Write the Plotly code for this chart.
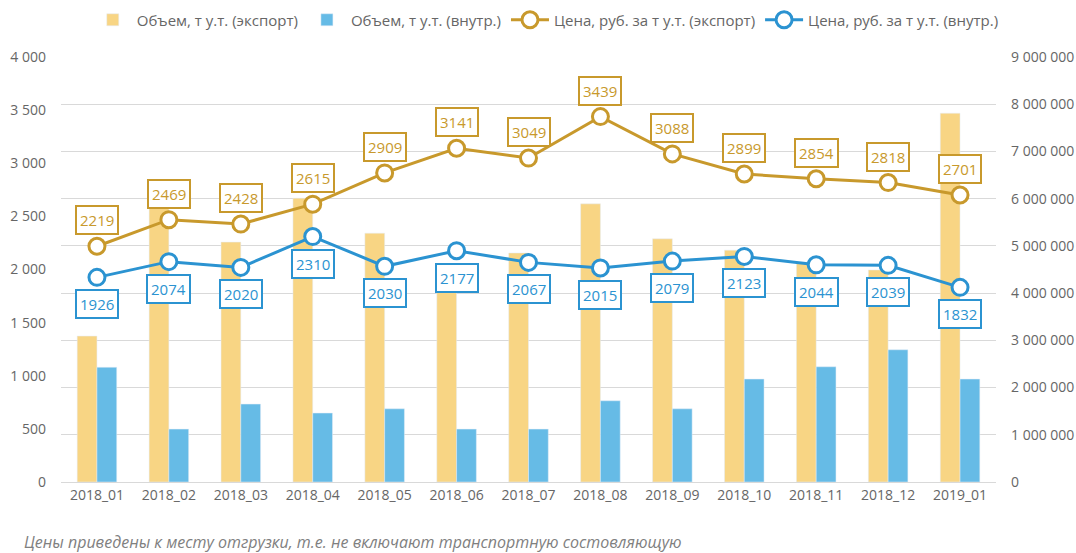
import plotly.graph_objects as go

categories = ["2018_01", "2018_02", "2018_03", "2018_04", "2018_05", "2018_06", "2018_07",
              "2018_08", "2018_09", "2018_10", "2018_11", "2018_12", "2019_01"]
vol_export = [3090000, 5910000, 5080000, 6010000, 5270000, 4530000, 4850000,
              5890000, 5150000, 4910000, 4660000, 4490000, 7810000]
vol_domestic = [2430000, 1120000, 1650000, 1460000, 1550000, 1120000, 1120000,
                1720000, 1550000, 2180000, 2440000, 2800000, 2180000]
price_export = [2219, 2469, 2428, 2615, 2909, 3141, 3049, 3439, 3088, 2899, 2854, 2818, 2701]
price_domestic = [1926, 2074, 2020, 2310, 2030, 2177, 2067, 2015, 2079, 2123, 2044, 2039, 1832]

names = ["Объем, т у.т. (экспорт)", "Объем, т у.т. (внутр.)",
         "Цена, руб. за т у.т. (экспорт)", "Цена, руб. за т у.т. (внутр.)"]
footnote = "Цены приведены к месту отгрузки, т.е. не включают транспортную состовляющую"

C_BAR_EXP = "#F8D584"
C_BAR_DOM = "#66BBE6"
C_LINE_EXP = "#C8992C"
C_LINE_DOM = "#2B93D1"
GRID = "#D9D9D9"
TXT = "#666666"
FONT = "Open Sans"

fig = go.Figure()
fig.add_trace(go.Bar(x=categories, y=vol_export, name=names[0], marker_color=C_BAR_EXP,
                     yaxis="y"))
fig.add_trace(go.Bar(x=categories, y=vol_domestic, name=names[1], marker_color=C_BAR_DOM,
                     yaxis="y"))
fig.add_trace(go.Scatter(x=categories, y=price_export, name=names[2], mode="lines+markers",
                         line=dict(color=C_LINE_EXP, width=3),
                         marker=dict(size=16, color="white", line=dict(color=C_LINE_EXP, width=3)),
                         yaxis="y2"))
fig.add_trace(go.Scatter(x=categories, y=price_domestic, name=names[3], mode="lines+markers",
                         line=dict(color=C_LINE_DOM, width=3),
                         marker=dict(size=16, color="white", line=dict(color=C_LINE_DOM, width=3)),
                         yaxis="y2"))

annotations = []
for c, v in zip(categories, price_export):
    annotations.append(dict(x=c, y=v, xref="x", yref="y2", text=str(v), showarrow=False,
                            yshift=26, yanchor="middle",
                            font=dict(family=FONT, size=15, color=C_LINE_EXP),
                            bgcolor="white", bordercolor=C_LINE_EXP, borderwidth=2, borderpad=3))
for c, v in zip(categories, price_domestic):
    annotations.append(dict(x=c, y=v, xref="x", yref="y2", text=str(v), showarrow=False,
                            yshift=-27, yanchor="middle",
                            font=dict(family=FONT, size=15, color=C_LINE_DOM),
                            bgcolor="white", bordercolor=C_LINE_DOM, borderwidth=2, borderpad=3))
annotations.append(dict(x=-0.042, y=-0.141, xref="paper", yref="paper", text=footnote,
                        showarrow=False, xanchor="left", yanchor="middle",
                        font=dict(family=FONT, size=16, color="#808080", style="italic")))

fig.update_layout(
    width=1076, height=553,
    margin=dict(l=61, r=80, t=57, b=71, autoexpand=False),
    paper_bgcolor="white", plot_bgcolor="white",
    separators=", ",
    font=dict(family=FONT, size=14, color=TXT),
    barmode="group", bargap=0.45, bargroupgap=0,
    showlegend=True,
    legend=dict(orientation="h", x=0.519, xanchor="center", y=1.087, yanchor="middle",
                font=dict(family=FONT, size=15, color=TXT), itemwidth=38,
                traceorder="normal"),
    xaxis=dict(showgrid=False, showline=True, linecolor=GRID, linewidth=1, automargin=False,
               range=[-0.5, len(categories) - 0.5],
               tickfont=dict(family=FONT, size=14, color=TXT), ticks=""),
    yaxis=dict(side="right", range=[0, 9000000], dtick=1000000, tickformat=",d",
               showgrid=True, gridcolor=GRID, gridwidth=1, zeroline=False, automargin=False,
               tickfont=dict(family=FONT, size=14, color=TXT), ticklabelstandoff=14),
    yaxis2=dict(side="left", overlaying="y", range=[0, 4000], dtick=500, tickformat=",d",
                showgrid=False, zeroline=False, automargin=False,
                tickfont=dict(family=FONT, size=14, color=TXT), ticklabelstandoff=14),
    annotations=annotations,
)

fig.write_html("out.html", config={"displayModeBar": False},
               post_script="document.body.style.margin='0px';")
